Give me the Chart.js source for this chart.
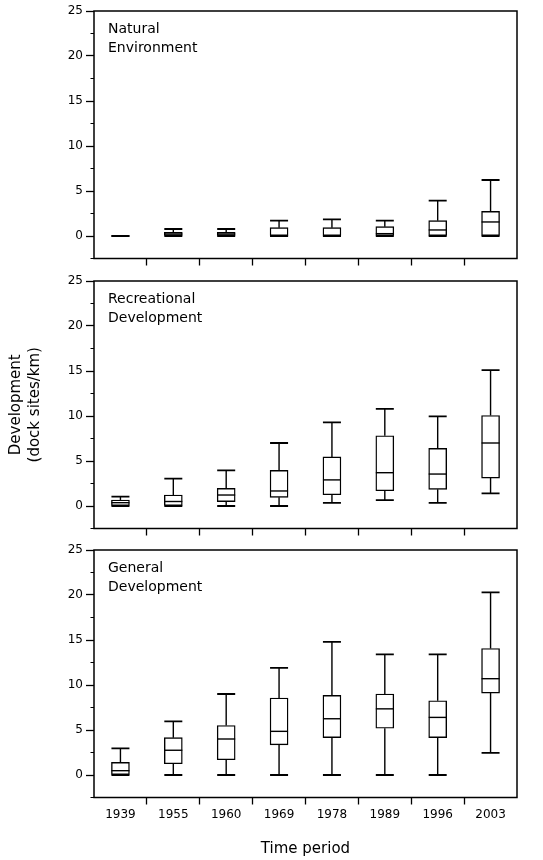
<!DOCTYPE html>
<html><head><meta charset="utf-8">
<script src="https://cdn.jsdelivr.net/npm/chart.js@4/dist/chart.umd.min.js"></script>
<style>
html,body{margin:0;padding:0;background:#fff;}
body{width:543px;height:860px;position:relative;overflow:hidden;}
.panel{position:absolute;left:0;width:543px;}
</style></head><body>
<div class="panel" style="top:0;height:270px"><canvas id="c1"></canvas></div>
<div class="panel" style="top:270px;height:270px"><canvas id="c2"></canvas></div>
<div class="panel" style="top:539px;height:321px"><canvas id="c3"></canvas></div>
<script>
const categories = ['1939','1955','1960','1969','1978','1989','1996','2003'];
const yTickValues = [0, 5, 10, 15, 20, 25];

// Natural Environment
const natMin = [0, 0, 0, 0, 0, 0, 0, 0];
const natQ1  = [0, 0, 0, 0, 0, 0, 0, 0];
const natMed = [0, 0.22, 0.22, 0, 0, 0.26, 0.67, 1.56];
const natQ3  = [0, 0.41, 0.41, 0.93, 0.93, 1.04, 1.7, 2.74];
const natMax = [0, 0.78, 0.78, 1.7, 1.85, 1.7, 3.93, 6.22];

// Recreational Development
const recMin = [0, 0, 0, 0, 0.35, 0.65, 0.35, 1.4];
const recQ1  = [0, 0, 0.48, 0.96, 1.25, 1.7, 1.85, 3.1];
const recMed = [0.37, 0.5, 1.22, 1.67, 2.9, 3.7, 3.55, 7.0];
const recQ3  = [0.67, 1.22, 1.96, 3.96, 5.45, 7.8, 6.4, 10.05];
const recMax = [1.04, 3.05, 3.95, 7.0, 9.3, 10.8, 9.95, 15.1];

// General Development
const genMin = [0, 0, 0, 0, 0, 0, 0, 2.45];
const genQ1  = [0, 1.25, 1.7, 3.35, 4.15, 5.2, 4.15, 9.1];
const genMed = [0.48, 2.75, 4.0, 4.85, 6.25, 7.35, 6.4, 10.7];
const genQ3  = [1.41, 4.15, 5.5, 8.55, 8.85, 9.0, 8.25, 14.05];
const genMax = [2.96, 5.95, 9.0, 11.9, 14.8, 13.4, 13.4, 20.3];

const FONT = "'DejaVu Sans', sans-serif";

const boxPlugin = {
  id: 'boxWhisker',
  afterDatasetsDraw(chart, args, opts) {
    const {ctx, scales: {y}} = chart;
    const meta = chart.getDatasetMeta(0);
    ctx.save();
    ctx.strokeStyle = '#000';
    meta.data.forEach((bar, i) => {
      const p = bar.getProps(['x', 'width'], true);
      const cx = p.x, h = p.width / 2;
      const yMax = y.getPixelForValue(opts.max[i]);
      const yMin = y.getPixelForValue(opts.min[i]);
      const yQ1 = y.getPixelForValue(opts.q1[i]);
      const yQ3 = y.getPixelForValue(opts.q3[i]);
      const yMed = y.getPixelForValue(opts.med[i]);
      ctx.lineWidth = 1.4;
      ctx.beginPath();
      ctx.moveTo(cx, yQ3); ctx.lineTo(cx, yMax);
      ctx.moveTo(cx, yQ1); ctx.lineTo(cx, yMin);
      ctx.stroke();
      ctx.lineWidth = 1.8;
      ctx.beginPath();
      ctx.moveTo(cx - h, yMax); ctx.lineTo(cx + h, yMax);
      ctx.moveTo(cx - h, yMin); ctx.lineTo(cx + h, yMin);
      ctx.stroke();
      ctx.lineWidth = 1.4;
      ctx.beginPath();
      ctx.moveTo(cx - h, yMed); ctx.lineTo(cx + h, yMed);
      ctx.stroke();
    });
    ctx.restore();
  },
  afterDraw(chart, args, opts) {
    const {ctx, chartArea: a, scales: {y}} = chart;
    ctx.save();
    ctx.strokeStyle = '#000';
    ctx.lineWidth = 1.5;
    ctx.strokeRect(a.left, a.top, a.right - a.left, a.bottom - a.top);
    // minor ticks
    ctx.lineWidth = 1.2;
    ctx.beginPath();
    y.ticks.forEach(t => {
      if (!yTickValues.includes(t.value)) {
        const py = y.getPixelForValue(t.value);
        ctx.moveTo(a.left - 3.5, py); ctx.lineTo(a.left, py);
      }
    });
    ctx.stroke();
    // panel label
    ctx.fillStyle = '#000';
    ctx.font = "14px " + FONT;
    ctx.textBaseline = 'alphabetic';
    ctx.textAlign = 'left';
    opts.label.forEach((line, k) => {
      ctx.fillText(line, a.left + 14, a.top + 22 + k * 19);
    });
    ctx.restore();
  }
};

function makeChart(id, d, showX, yTitle, xHeight) {
  return new Chart(document.getElementById(id), {
    type: 'bar',
    data: {
      labels: categories,
      datasets: [{
        data: categories.map((c, i) => [d.q1[i], d.q3[i]]),
        backgroundColor: '#fff',
        borderColor: '#000',
        borderWidth: 1.4,
        borderSkipped: false,
        barThickness: 18
      }]
    },
    plugins: [boxPlugin],
    options: {
      responsive: true,
      maintainAspectRatio: false,
      animation: false,
      devicePixelRatio: 1,
      layout: {padding: {top: 11, right: 26, left: 0, bottom: 0}},
      plugins: {
        legend: {display: false},
        tooltip: {enabled: false},
        boxWhisker: d
      },
      scales: {
        x: {
          type: 'category',
          offset: true,
          border: {display: false},
          grid: {
            offset: true,
            drawOnChartArea: false,
            drawTicks: true,
            tickLength: 7,
            tickWidth: 1.3,
            tickColor: ctx => (ctx.index > 0 && ctx.index < categories.length) ? '#000' : 'rgba(0,0,0,0)'
          },
          ticks: {display: showX, color: '#000', font: {family: FONT, size: 12}, padding: 3, maxRotation: 0, autoSkip: false},
          title: {display: showX, text: 'Time period', color: '#000', font: {family: FONT, size: 15}, padding: {top: 0, bottom: 2}},
          afterFit: s => { s.height = xHeight; }
        },
        y: {
          min: -2.5,
          max: 25,
          border: {display: false},
          grid: {
            drawOnChartArea: false,
            drawTicks: true,
            tickLength: 8,
            tickWidth: 1.3,
            tickColor: ctx => (ctx.tick && yTickValues.includes(ctx.tick.value)) ? '#000' : 'rgba(0,0,0,0)'
          },
          ticks: {
            stepSize: 2.5,
            autoSkip: false,
            color: '#000',
            padding: 3,
            font: {family: FONT, size: 12},
            callback: v => yTickValues.includes(v) ? String(v) : ''
          },
          title: {
            display: !!yTitle,
            text: yTitle || '',
            color: '#000',
            font: {family: FONT, size: 15, lineHeight: 1.25},
            padding: {top: 7, bottom: 0}
          },
          afterFit: s => { s.width = 94; }
        }
      }
    }
  });
}

makeChart('c1', {min: natMin, q1: natQ1, med: natMed, q3: natQ3, max: natMax, label: ['Natural', 'Environment']}, false, null, 11.5);
makeChart('c2', {min: recMin, q1: recQ1, med: recMed, q3: recQ3, max: recMax, label: ['Recreational', 'Development']}, false, ['Development', '(dock sites/km)'], 11.5);
makeChart('c3', {min: genMin, q1: genQ1, med: genMed, q3: genQ3, max: genMax, label: ['General', 'Development']}, true, null, 62.5);
</script>
</body></html>
